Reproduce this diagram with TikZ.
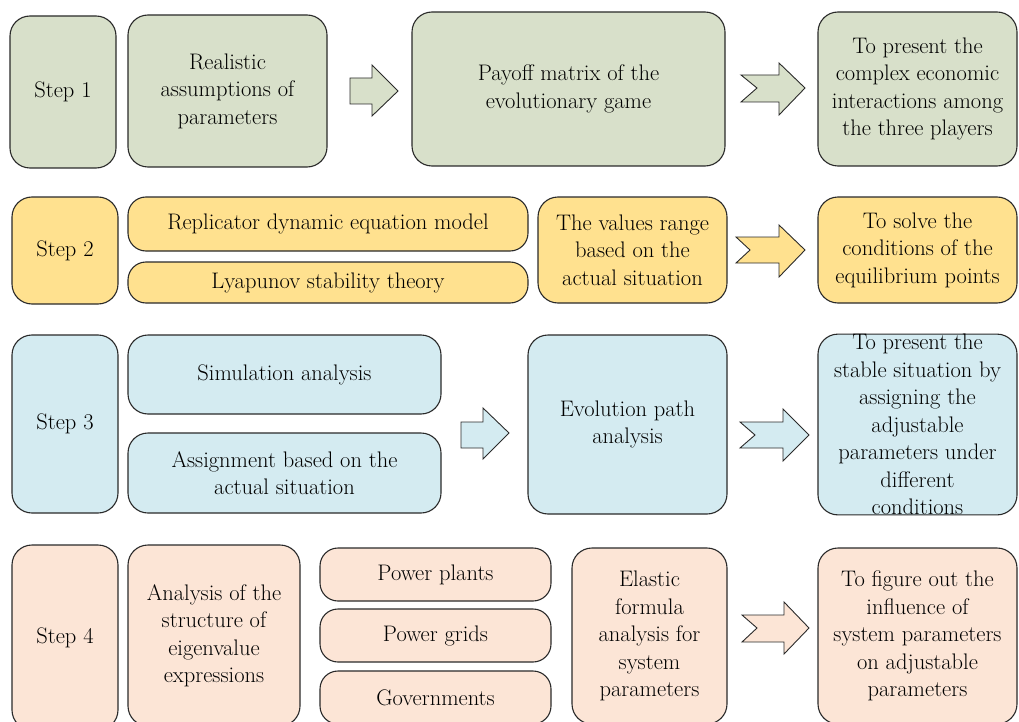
\documentclass[tikz,border=0pt]{standalone}
\usepackage{tikz}
\definecolor{cA}{HTML}{D8E0CA}
\definecolor{cB}{HTML}{FFE18F}
\definecolor{cC}{HTML}{D4EBF1}
\definecolor{cD}{HTML}{FCE5D6}
\definecolor{edge}{HTML}{2A2A2A}
\begin{document}
\begin{tikzpicture}[x=1pt,y=-1pt,
  box/.style={draw=edge, line width=1.1pt, rounded corners=20pt, align=center,
    inner sep=0pt, font=\fontsize{22.5}{27.5}\selectfont},
  pill/.style={box, rounded corners=18pt},
  arr/.style={draw=edge, line width=0.9pt, line join=miter}]
\useasboundingbox (0,0) rectangle (1019,722);
\begin{scope}
\clip (0,0) rectangle (1019,722);
% Row 1
\node[box, fill=cA, minimum width=106pt, minimum height=152pt] (s1) at (63,92) {Step 1};
\node[box, fill=cA, minimum width=199pt, minimum height=152pt] (real) at (227.5,91) {Realistic\\assumptions of\\parameters};
\node[box, fill=cA, minimum width=313pt, minimum height=154pt] (pay) at (568.5,89) {Payoff matrix of the\\evolutionary game};
\node[box, fill=cA, minimum width=199pt, minimum height=154pt] (res1) at (917.5,89) {To present the\\complex economic\\interactions among\\the three players};
\draw[arr, fill=cA] (350,78) -- (372,78) -- (372,65) -- (398,91) -- (372,116) -- (372,104) -- (350,104) -- cycle;
\draw[arr, fill=cA] (741,75) -- (779,75) -- (779,63) -- (805,88) -- (779,115) -- (779,102) -- (741,102) -- (757,88) -- cycle;
% Row 2
\node[box, fill=cB, minimum width=106pt, minimum height=107pt] (s2) at (65,250.5) {Step 2};
\node[pill, fill=cB, minimum width=400pt, minimum height=54pt] (rep) at (328,224) {Replicator dynamic equation model};
\node[pill, fill=cB, minimum width=400pt, minimum height=41pt] (lya) at (328,282.5) {Lyapunov stability theory};
\node[box, fill=cB, minimum width=189pt, minimum height=106pt] (val) at (632.5,250) {The values range\\based on the\\actual situation};
\node[box, fill=cB, minimum width=199pt, minimum height=106pt] (res2) at (917.5,250) {To solve the\\conditions of the\\equilibrium points};
\draw[arr, fill=cB] (736,237) -- (779,237) -- (779,225) -- (805,250) -- (779,277) -- (779,263) -- (736,263) -- (750,250) -- cycle;
% Row 3
\node[box, fill=cC, minimum width=106pt, minimum height=178pt] (s3) at (65,424) {Step 3};
\node[box, fill=cC, minimum width=313pt, minimum height=79pt] (sim) at (284.5,374.5) {Simulation analysis};
\node[box, fill=cC, minimum width=313pt, minimum height=80pt] (asg) at (284.5,473) {Assignment based on the\\actual situation};
\node[box, fill=cC, minimum width=199pt, minimum height=179pt] (evo) at (627.5,424.5) {Evolution path\\analysis};
\node[box, fill=cC, minimum width=199pt, minimum height=179pt] (res3) at (917.5,424.5) {To present the\\stable situation by\\assigning the\\adjustable\\parameters under\\different\\conditions};
\draw[arr, fill=cC] (461,422) -- (483,422) -- (483,408) -- (509,433) -- (483,459) -- (483,448) -- (461,448) -- cycle;
\draw[arr, fill=cC] (740,422) -- (783,422) -- (783,409) -- (809,435) -- (783,461) -- (783,448) -- (740,448) -- (755,435) -- cycle;
% Row 4
\node[box, fill=cD, minimum width=106pt, minimum height=185pt] (s4) at (65,637.5) {Step 4};
\node[box, fill=cD, minimum width=172pt, minimum height=181pt] (ana) at (214,635.5) {Analysis of the\\structure of\\eigenvalue\\expressions};
\node[pill, fill=cD, minimum width=231pt, minimum height=53pt] (pp) at (435.5,574.5) {Power plants};
\node[pill, fill=cD, minimum width=231pt, minimum height=53pt] (pg) at (435.5,635.5) {Power grids};
\node[pill, fill=cD, minimum width=231pt, minimum height=53pt] (gov) at (435.5,697.5) {Governments};
\node[box, fill=cD, minimum width=155pt, minimum height=176pt] (ela) at (649.5,636) {Elastic\\formula\\analysis for\\system\\parameters};
\node[box, fill=cD, minimum width=199pt, minimum height=176pt] (res4) at (917.5,636) {To figure out the\\influence of\\system parameters\\on adjustable\\parameters};
\draw[arr, fill=cD] (742,615) -- (784,615) -- (784,602) -- (809,628) -- (784,654) -- (784,642) -- (742,642) -- (757,628) -- cycle;
\end{scope}
\end{tikzpicture}
\end{document}
